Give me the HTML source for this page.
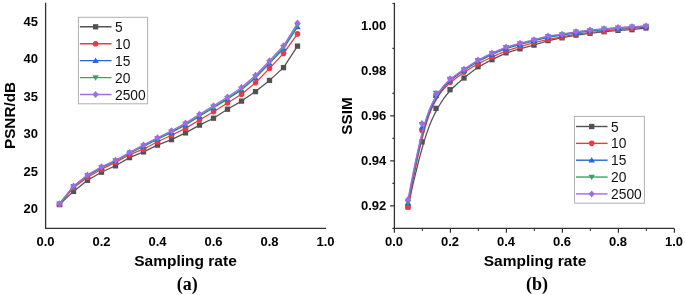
<!DOCTYPE html>
<html><head><meta charset="utf-8"><style>
html,body{margin:0;padding:0;background:#fff;width:685px;height:295px;overflow:hidden}
svg{display:block;filter:blur(0.22px)}
</style></head><body>
<svg width="685" height="295" viewBox="0 0 685 295">
<rect width="685" height="295" fill="#fff"/>
<path d="M59.50 204.60 L73.50 191.40 L87.50 180.30 L101.50 172.20 L115.50 165.80 L129.50 157.60 L143.50 151.90 L157.50 145.10 L171.50 139.60 L185.50 132.90 L199.50 125.10 L213.50 118.20 L227.50 109.20 L241.50 101.10 L255.50 91.60 L269.50 80.40 L283.50 67.60 L297.50 46.10" fill="none" stroke="#525252" stroke-width="1.25" stroke-linejoin="round"/>
<rect x="56.85" y="201.95" width="5.3" height="5.3" fill="#525252"/>
<rect x="70.85" y="188.75" width="5.3" height="5.3" fill="#525252"/>
<rect x="84.85" y="177.65" width="5.3" height="5.3" fill="#525252"/>
<rect x="98.85" y="169.55" width="5.3" height="5.3" fill="#525252"/>
<rect x="112.85" y="163.15" width="5.3" height="5.3" fill="#525252"/>
<rect x="126.85" y="154.95" width="5.3" height="5.3" fill="#525252"/>
<rect x="140.85" y="149.25" width="5.3" height="5.3" fill="#525252"/>
<rect x="154.85" y="142.45" width="5.3" height="5.3" fill="#525252"/>
<rect x="168.85" y="136.95" width="5.3" height="5.3" fill="#525252"/>
<rect x="182.85" y="130.25" width="5.3" height="5.3" fill="#525252"/>
<rect x="196.85" y="122.45" width="5.3" height="5.3" fill="#525252"/>
<rect x="210.85" y="115.55" width="5.3" height="5.3" fill="#525252"/>
<rect x="224.85" y="106.55" width="5.3" height="5.3" fill="#525252"/>
<rect x="238.85" y="98.45" width="5.3" height="5.3" fill="#525252"/>
<rect x="252.85" y="88.95" width="5.3" height="5.3" fill="#525252"/>
<rect x="266.85" y="77.75" width="5.3" height="5.3" fill="#525252"/>
<rect x="280.85" y="64.95" width="5.3" height="5.3" fill="#525252"/>
<rect x="294.85" y="43.45" width="5.3" height="5.3" fill="#525252"/>
<path d="M59.50 204.20 L73.50 187.80 L87.50 177.20 L101.50 169.20 L115.50 162.40 L129.50 154.70 L143.50 149.20 L157.50 141.70 L171.50 135.30 L185.50 128.40 L199.50 120.00 L213.50 111.70 L227.50 103.00 L241.50 94.30 L255.50 82.80 L269.50 68.40 L283.50 53.40 L297.50 33.90" fill="none" stroke="#ec3a3f" stroke-width="1.25" stroke-linejoin="round"/>
<circle cx="59.50" cy="204.20" r="2.8" fill="#ec3a3f"/>
<circle cx="73.50" cy="187.80" r="2.8" fill="#ec3a3f"/>
<circle cx="87.50" cy="177.20" r="2.8" fill="#ec3a3f"/>
<circle cx="101.50" cy="169.20" r="2.8" fill="#ec3a3f"/>
<circle cx="115.50" cy="162.40" r="2.8" fill="#ec3a3f"/>
<circle cx="129.50" cy="154.70" r="2.8" fill="#ec3a3f"/>
<circle cx="143.50" cy="149.20" r="2.8" fill="#ec3a3f"/>
<circle cx="157.50" cy="141.70" r="2.8" fill="#ec3a3f"/>
<circle cx="171.50" cy="135.30" r="2.8" fill="#ec3a3f"/>
<circle cx="185.50" cy="128.40" r="2.8" fill="#ec3a3f"/>
<circle cx="199.50" cy="120.00" r="2.8" fill="#ec3a3f"/>
<circle cx="213.50" cy="111.70" r="2.8" fill="#ec3a3f"/>
<circle cx="227.50" cy="103.00" r="2.8" fill="#ec3a3f"/>
<circle cx="241.50" cy="94.30" r="2.8" fill="#ec3a3f"/>
<circle cx="255.50" cy="82.80" r="2.8" fill="#ec3a3f"/>
<circle cx="269.50" cy="68.40" r="2.8" fill="#ec3a3f"/>
<circle cx="283.50" cy="53.40" r="2.8" fill="#ec3a3f"/>
<circle cx="297.50" cy="33.90" r="2.8" fill="#ec3a3f"/>
<path d="M59.50 203.88 L73.50 186.56 L87.50 175.71 L101.50 167.64 L115.50 160.97 L129.50 153.27 L143.50 146.41 L157.50 139.16 L171.50 132.38 L185.50 124.95 L199.50 116.23 L213.50 107.80 L227.50 99.10 L241.50 89.88 L255.50 77.86 L269.50 63.40 L283.50 48.46 L297.50 26.81" fill="none" stroke="#2465d9" stroke-width="1.25" stroke-linejoin="round"/>
<path d="M59.50 200.78L62.70 206.28L56.30 206.28Z" fill="#2465d9"/>
<path d="M73.50 183.47L76.70 188.97L70.30 188.97Z" fill="#2465d9"/>
<path d="M87.50 172.61L90.70 178.11L84.30 178.11Z" fill="#2465d9"/>
<path d="M101.50 164.54L104.70 170.04L98.30 170.04Z" fill="#2465d9"/>
<path d="M115.50 157.87L118.70 163.37L112.30 163.37Z" fill="#2465d9"/>
<path d="M129.50 150.17L132.70 155.67L126.30 155.67Z" fill="#2465d9"/>
<path d="M143.50 143.31L146.70 148.81L140.30 148.81Z" fill="#2465d9"/>
<path d="M157.50 136.06L160.70 141.56L154.30 141.56Z" fill="#2465d9"/>
<path d="M171.50 129.28L174.70 134.78L168.30 134.78Z" fill="#2465d9"/>
<path d="M185.50 121.86L188.70 127.36L182.30 127.36Z" fill="#2465d9"/>
<path d="M199.50 113.13L202.70 118.63L196.30 118.63Z" fill="#2465d9"/>
<path d="M213.50 104.70L216.70 110.20L210.30 110.20Z" fill="#2465d9"/>
<path d="M227.50 96.00L230.70 101.50L224.30 101.50Z" fill="#2465d9"/>
<path d="M241.50 86.78L244.70 92.28L238.30 92.28Z" fill="#2465d9"/>
<path d="M255.50 74.76L258.70 80.26L252.30 80.26Z" fill="#2465d9"/>
<path d="M269.50 60.30L272.70 65.80L266.30 65.80Z" fill="#2465d9"/>
<path d="M283.50 45.36L286.70 50.86L280.30 50.86Z" fill="#2465d9"/>
<path d="M297.50 23.71L300.70 29.21L294.30 29.21Z" fill="#2465d9"/>
<path d="M59.50 203.81 L73.50 186.32 L87.50 175.41 L101.50 167.33 L115.50 160.68 L129.50 152.98 L143.50 145.85 L157.50 138.66 L171.50 131.79 L185.50 124.27 L199.50 115.48 L213.50 107.02 L227.50 98.32 L241.50 89.00 L255.50 76.87 L269.50 62.39 L283.50 47.47 L297.50 25.40" fill="none" stroke="#2ea865" stroke-width="1.25" stroke-linejoin="round"/>
<path d="M59.50 206.91L62.70 201.41L56.30 201.41Z" fill="#2ea865"/>
<path d="M73.50 189.42L76.70 183.92L70.30 183.92Z" fill="#2ea865"/>
<path d="M87.50 178.51L90.70 173.01L84.30 173.01Z" fill="#2ea865"/>
<path d="M101.50 170.43L104.70 164.93L98.30 164.93Z" fill="#2ea865"/>
<path d="M115.50 163.78L118.70 158.28L112.30 158.28Z" fill="#2ea865"/>
<path d="M129.50 156.08L132.70 150.58L126.30 150.58Z" fill="#2ea865"/>
<path d="M143.50 148.95L146.70 143.45L140.30 143.45Z" fill="#2ea865"/>
<path d="M157.50 141.76L160.70 136.26L154.30 136.26Z" fill="#2ea865"/>
<path d="M171.50 134.89L174.70 129.39L168.30 129.39Z" fill="#2ea865"/>
<path d="M185.50 127.37L188.70 121.87L182.30 121.87Z" fill="#2ea865"/>
<path d="M199.50 118.58L202.70 113.08L196.30 113.08Z" fill="#2ea865"/>
<path d="M213.50 110.12L216.70 104.62L210.30 104.62Z" fill="#2ea865"/>
<path d="M227.50 101.42L230.70 95.92L224.30 95.92Z" fill="#2ea865"/>
<path d="M241.50 92.10L244.70 86.60L238.30 86.60Z" fill="#2ea865"/>
<path d="M255.50 79.97L258.70 74.47L252.30 74.47Z" fill="#2ea865"/>
<path d="M269.50 65.49L272.70 59.99L266.30 59.99Z" fill="#2ea865"/>
<path d="M283.50 50.57L286.70 45.07L280.30 45.07Z" fill="#2ea865"/>
<path d="M297.50 28.50L300.70 23.00L294.30 23.00Z" fill="#2ea865"/>
<path d="M59.50 203.70 L73.50 185.90 L87.50 174.90 L101.50 166.80 L115.50 160.20 L129.50 152.50 L143.50 144.90 L157.50 137.80 L171.50 130.80 L185.50 123.10 L199.50 114.20 L213.50 105.70 L227.50 97.00 L241.50 87.50 L255.50 75.20 L269.50 60.70 L283.50 45.80 L297.50 23.00" fill="none" stroke="#a36be3" stroke-width="1.25" stroke-linejoin="round"/>
<path d="M59.50 200.20L62.60 203.70L59.50 207.20L56.40 203.70Z" fill="#a36be3"/>
<path d="M73.50 182.40L76.60 185.90L73.50 189.40L70.40 185.90Z" fill="#a36be3"/>
<path d="M87.50 171.40L90.60 174.90L87.50 178.40L84.40 174.90Z" fill="#a36be3"/>
<path d="M101.50 163.30L104.60 166.80L101.50 170.30L98.40 166.80Z" fill="#a36be3"/>
<path d="M115.50 156.70L118.60 160.20L115.50 163.70L112.40 160.20Z" fill="#a36be3"/>
<path d="M129.50 149.00L132.60 152.50L129.50 156.00L126.40 152.50Z" fill="#a36be3"/>
<path d="M143.50 141.40L146.60 144.90L143.50 148.40L140.40 144.90Z" fill="#a36be3"/>
<path d="M157.50 134.30L160.60 137.80L157.50 141.30L154.40 137.80Z" fill="#a36be3"/>
<path d="M171.50 127.30L174.60 130.80L171.50 134.30L168.40 130.80Z" fill="#a36be3"/>
<path d="M185.50 119.60L188.60 123.10L185.50 126.60L182.40 123.10Z" fill="#a36be3"/>
<path d="M199.50 110.70L202.60 114.20L199.50 117.70L196.40 114.20Z" fill="#a36be3"/>
<path d="M213.50 102.20L216.60 105.70L213.50 109.20L210.40 105.70Z" fill="#a36be3"/>
<path d="M227.50 93.50L230.60 97.00L227.50 100.50L224.40 97.00Z" fill="#a36be3"/>
<path d="M241.50 84.00L244.60 87.50L241.50 91.00L238.40 87.50Z" fill="#a36be3"/>
<path d="M255.50 71.70L258.60 75.20L255.50 78.70L252.40 75.20Z" fill="#a36be3"/>
<path d="M269.50 57.20L272.60 60.70L269.50 64.20L266.40 60.70Z" fill="#a36be3"/>
<path d="M283.50 42.30L286.60 45.80L283.50 49.30L280.40 45.80Z" fill="#a36be3"/>
<path d="M297.50 19.50L300.60 23.00L297.50 26.50L294.40 23.00Z" fill="#a36be3"/>
<path d="M45.6 2.8 V228.45 H326" fill="none" stroke="#333" stroke-width="1.3"/>
<text x="38" y="213.40" text-anchor="end" font-family="'Liberation Sans', sans-serif" font-weight="bold" font-size="13">20</text>
<text x="38" y="175.90" text-anchor="end" font-family="'Liberation Sans', sans-serif" font-weight="bold" font-size="13">25</text>
<text x="38" y="138.40" text-anchor="end" font-family="'Liberation Sans', sans-serif" font-weight="bold" font-size="13">30</text>
<text x="38" y="100.90" text-anchor="end" font-family="'Liberation Sans', sans-serif" font-weight="bold" font-size="13">35</text>
<text x="38" y="63.40" text-anchor="end" font-family="'Liberation Sans', sans-serif" font-weight="bold" font-size="13">40</text>
<text x="38" y="25.90" text-anchor="end" font-family="'Liberation Sans', sans-serif" font-weight="bold" font-size="13">45</text>
<text x="45.50" y="245.9" text-anchor="middle" font-family="'Liberation Sans', sans-serif" font-weight="bold" font-size="13">0.0</text>
<text x="101.50" y="245.9" text-anchor="middle" font-family="'Liberation Sans', sans-serif" font-weight="bold" font-size="13">0.2</text>
<text x="157.50" y="245.9" text-anchor="middle" font-family="'Liberation Sans', sans-serif" font-weight="bold" font-size="13">0.4</text>
<text x="213.50" y="245.9" text-anchor="middle" font-family="'Liberation Sans', sans-serif" font-weight="bold" font-size="13">0.6</text>
<text x="269.50" y="245.9" text-anchor="middle" font-family="'Liberation Sans', sans-serif" font-weight="bold" font-size="13">0.8</text>
<text x="325.50" y="245.9" text-anchor="middle" font-family="'Liberation Sans', sans-serif" font-weight="bold" font-size="13">1.0</text>
<text x="185.5" y="265.9" text-anchor="middle" font-family="'Liberation Sans', sans-serif" font-weight="bold" font-size="15.5">Sampling rate</text>
<text transform="translate(15.2 115.5) rotate(-90)" text-anchor="middle" font-family="'Liberation Sans', sans-serif" font-weight="bold" font-size="15.3">PSNR/dB</text>
<text x="187.3" y="290.2" text-anchor="middle" font-family="'Liberation Serif', serif" font-weight="bold" font-size="18">(a)</text>
<rect x="78.4" y="17.3" width="69.2" height="86.5" fill="#fff" stroke="#b0b0b0" stroke-width="1"/>
<line x1="79.9" y1="26.80" x2="111.5" y2="26.80" stroke="#525252" stroke-width="1.4"/>
<rect x="92.95" y="24.15" width="5.3" height="5.3" fill="#525252"/>
<text x="115.0" y="31.80" font-family="'Liberation Sans', sans-serif" font-size="13.8" fill="#111">5</text>
<line x1="79.9" y1="43.73" x2="111.5" y2="43.73" stroke="#ec3a3f" stroke-width="1.4"/>
<circle cx="95.60" cy="43.73" r="2.8" fill="#ec3a3f"/>
<text x="115.0" y="48.73" font-family="'Liberation Sans', sans-serif" font-size="13.8" fill="#111">10</text>
<line x1="79.9" y1="60.66" x2="111.5" y2="60.66" stroke="#2465d9" stroke-width="1.4"/>
<path d="M95.60 57.56L98.80 63.06L92.40 63.06Z" fill="#2465d9"/>
<text x="115.0" y="65.66" font-family="'Liberation Sans', sans-serif" font-size="13.8" fill="#111">15</text>
<line x1="79.9" y1="77.59" x2="111.5" y2="77.59" stroke="#2ea865" stroke-width="1.4"/>
<path d="M95.60 80.69L98.80 75.19L92.40 75.19Z" fill="#2ea865"/>
<text x="115.0" y="82.59" font-family="'Liberation Sans', sans-serif" font-size="13.8" fill="#111">20</text>
<line x1="79.9" y1="94.52" x2="111.5" y2="94.52" stroke="#a36be3" stroke-width="1.4"/>
<path d="M95.60 91.02L98.70 94.52L95.60 98.02L92.50 94.52Z" fill="#a36be3"/>
<text x="115.0" y="99.52" font-family="'Liberation Sans', sans-serif" font-size="13.8" fill="#111">2500</text>
<path d="M408.00 206.90 L409.55 199.77 L411.04 193.04 L412.48 186.69 L413.86 180.70 L415.19 175.07 L416.47 169.79 L417.70 164.82 L418.89 160.18 L420.03 155.83 L421.13 151.77 L422.19 147.97 L423.21 144.44 L424.19 141.15 L425.14 138.10 L426.05 135.26 L426.93 132.62 L427.79 130.18 L428.61 127.91 L429.41 125.80 L430.19 123.84 L430.94 122.02 L431.67 120.31 L432.39 118.72 L433.08 117.22 L433.77 115.80 L434.44 114.44 L435.10 113.14 L435.74 111.89 L436.38 110.67 L437.02 109.50 L437.64 108.37 L438.25 107.28 L438.86 106.22 L439.46 105.20 L440.05 104.22 L440.63 103.26 L441.21 102.35 L441.78 101.46 L442.35 100.60 L442.91 99.77 L443.47 98.97 L444.02 98.19 L444.57 97.44 L445.11 96.71 L445.65 96.00 L446.19 95.32 L446.72 94.65 L447.25 94.00 L447.78 93.37 L448.31 92.75 L448.84 92.15 L449.37 91.56 L449.89 90.98 L450.42 90.41 L450.95 89.85 L451.47 89.30 L452.00 88.76 L452.53 88.23 L453.05 87.71 L453.58 87.19 L454.11 86.68 L454.63 86.18 L455.16 85.69 L455.68 85.20 L456.21 84.72 L456.74 84.24 L457.26 83.77 L457.79 83.30 L458.32 82.84 L458.84 82.39 L459.37 81.93 L459.89 81.48 L460.42 81.04 L460.95 80.60 L461.47 80.15 L462.00 79.72 L462.53 79.28 L463.05 78.85 L463.58 78.41 L464.11 77.98 L464.63 77.55 L465.16 77.12 L465.68 76.69 L466.21 76.26 L466.74 75.83 L467.26 75.41 L467.79 74.98 L468.32 74.56 L468.84 74.14 L469.37 73.72 L469.89 73.31 L470.42 72.90 L470.95 72.49 L471.47 72.08 L472.00 71.68 L472.53 71.28 L473.05 70.89 L473.58 70.50 L474.11 70.11 L474.63 69.73 L475.16 69.36 L475.68 68.99 L476.21 68.62 L476.74 68.26 L477.26 67.90 L477.79 67.55 L478.32 67.21 L478.84 66.87 L479.37 66.54 L479.89 66.22 L480.42 65.90 L480.95 65.58 L481.47 65.27 L482.00 64.96 L482.53 64.66 L483.05 64.36 L483.58 64.07 L484.11 63.78 L484.63 63.49 L485.16 63.21 L485.68 62.93 L486.21 62.65 L486.74 62.37 L487.26 62.10 L487.79 61.83 L488.32 61.56 L488.84 61.29 L489.37 61.03 L489.89 60.77 L490.42 60.50 L490.95 60.24 L491.47 59.98 L492.00 59.72 L492.53 59.46 L493.05 59.19 L493.58 58.93 L494.11 58.67 L494.63 58.42 L495.16 58.16 L495.68 57.90 L496.21 57.64 L496.74 57.39 L497.26 57.14 L497.79 56.88 L498.32 56.63 L498.84 56.39 L499.37 56.14 L499.89 55.90 L500.42 55.66 L500.95 55.42 L501.47 55.18 L502.00 54.95 L502.53 54.72 L503.05 54.49 L503.58 54.27 L504.11 54.05 L504.63 53.83 L505.16 53.62 L505.68 53.41 L506.21 53.20 L506.74 53.00 L507.26 52.80 L507.79 52.61 L508.32 52.42 L508.84 52.23 L509.37 52.05 L509.89 51.87 L510.42 51.69 L510.95 51.52 L511.47 51.35 L512.00 51.18 L512.53 51.01 L513.05 50.85 L513.58 50.69 L514.11 50.53 L514.63 50.37 L515.16 50.22 L515.68 50.06 L516.21 49.91 L516.74 49.76 L517.26 49.61 L517.79 49.46 L518.32 49.32 L518.84 49.17 L519.37 49.02 L519.89 48.88 L520.42 48.73 L520.95 48.59 L521.47 48.45 L522.00 48.30 L522.53 48.16 L523.05 48.02 L523.58 47.87 L524.11 47.73 L524.63 47.59 L525.16 47.44 L525.68 47.30 L526.21 47.16 L526.74 47.01 L527.26 46.87 L527.79 46.72 L528.32 46.58 L528.84 46.43 L529.37 46.29 L529.89 46.14 L530.42 45.99 L530.95 45.84 L531.47 45.69 L532.00 45.54 L532.53 45.39 L533.05 45.24 L533.58 45.09 L534.11 44.94 L534.63 44.78 L535.16 44.63 L535.68 44.47 L536.21 44.31 L536.74 44.15 L537.26 43.99 L537.79 43.84 L538.32 43.68 L538.84 43.52 L539.37 43.36 L539.89 43.20 L540.42 43.04 L540.95 42.88 L541.47 42.73 L542.00 42.57 L542.53 42.42 L543.05 42.26 L543.58 42.11 L544.11 41.96 L544.63 41.80 L545.16 41.66 L545.68 41.51 L546.21 41.36 L546.74 41.22 L547.26 41.08 L547.79 40.94 L548.32 40.80 L548.84 40.67 L549.37 40.53 L549.89 40.40 L550.42 40.28 L550.95 40.15 L551.47 40.03 L552.00 39.90 L552.53 39.78 L553.05 39.66 L553.58 39.55 L554.11 39.43 L554.63 39.32 L555.16 39.20 L555.68 39.09 L556.21 38.98 L556.74 38.87 L557.26 38.76 L557.79 38.66 L558.32 38.55 L558.84 38.44 L559.37 38.34 L559.89 38.23 L560.42 38.13 L560.95 38.02 L561.47 37.92 L562.00 37.82 L562.53 37.71 L563.05 37.61 L563.58 37.51 L564.11 37.40 L564.63 37.30 L565.16 37.20 L565.68 37.10 L566.21 37.00 L566.74 36.90 L567.26 36.80 L567.79 36.70 L568.32 36.60 L568.84 36.50 L569.37 36.40 L569.89 36.31 L570.42 36.21 L570.95 36.11 L571.47 36.02 L572.00 35.93 L572.53 35.83 L573.05 35.74 L573.58 35.65 L574.11 35.56 L574.63 35.47 L575.16 35.39 L575.68 35.30 L576.21 35.22 L576.74 35.13 L577.26 35.05 L577.79 34.97 L578.32 34.89 L578.84 34.81 L579.37 34.73 L579.89 34.66 L580.42 34.58 L580.95 34.51 L581.47 34.43 L582.00 34.36 L582.53 34.29 L583.05 34.22 L583.58 34.15 L584.11 34.08 L584.63 34.01 L585.16 33.94 L585.68 33.87 L586.21 33.80 L586.74 33.74 L587.26 33.67 L587.79 33.60 L588.32 33.54 L588.84 33.47 L589.37 33.41 L589.89 33.35 L590.42 33.28 L590.95 33.22 L591.47 33.16 L592.00 33.09 L592.53 33.03 L593.05 32.97 L593.58 32.91 L594.11 32.84 L594.63 32.78 L595.16 32.72 L595.68 32.66 L596.21 32.60 L596.74 32.54 L597.26 32.48 L597.79 32.42 L598.32 32.36 L598.84 32.30 L599.37 32.25 L599.89 32.19 L600.42 32.13 L600.95 32.07 L601.47 32.02 L602.00 31.96 L602.53 31.90 L603.05 31.85 L603.58 31.79 L604.11 31.74 L604.63 31.68 L605.16 31.63 L605.69 31.58 L606.22 31.52 L606.75 31.47 L607.28 31.42 L607.81 31.37 L608.35 31.32 L608.89 31.27 L609.43 31.22 L609.98 31.17 L610.53 31.12 L611.09 31.07 L611.65 31.02 L612.22 30.97 L612.79 30.92 L613.37 30.87 L613.95 30.83 L614.54 30.78 L615.14 30.73 L615.75 30.69 L616.36 30.64 L616.98 30.59 L617.62 30.55 L618.26 30.50 L618.90 30.46 L619.56 30.42 L620.23 30.37 L620.92 30.33 L621.61 30.28 L622.33 30.24 L623.06 30.19 L623.81 30.14 L624.59 30.08 L625.39 30.03 L626.21 29.97 L627.07 29.91 L627.95 29.84 L628.86 29.77 L629.81 29.69 L630.79 29.60 L631.81 29.51 L632.87 29.42 L633.97 29.32 L635.11 29.21 L636.30 29.09 L637.53 28.96 L638.81 28.82 L640.14 28.68 L641.52 28.53 L642.96 28.36 L644.45 28.19 L646.00 28.00" fill="none" stroke="#525252" stroke-width="1.25" stroke-linejoin="round"/>
<rect x="405.35" y="204.25" width="5.3" height="5.3" fill="#525252"/>
<rect x="419.35" y="139.25" width="5.3" height="5.3" fill="#525252"/>
<rect x="433.35" y="105.75" width="5.3" height="5.3" fill="#525252"/>
<rect x="447.35" y="87.05" width="5.3" height="5.3" fill="#525252"/>
<rect x="461.35" y="75.35" width="5.3" height="5.3" fill="#525252"/>
<rect x="475.35" y="64.05" width="5.3" height="5.3" fill="#525252"/>
<rect x="489.35" y="57.05" width="5.3" height="5.3" fill="#525252"/>
<rect x="503.35" y="50.15" width="5.3" height="5.3" fill="#525252"/>
<rect x="517.35" y="46.15" width="5.3" height="5.3" fill="#525252"/>
<rect x="531.35" y="42.45" width="5.3" height="5.3" fill="#525252"/>
<rect x="545.35" y="37.95" width="5.3" height="5.3" fill="#525252"/>
<rect x="559.35" y="35.15" width="5.3" height="5.3" fill="#525252"/>
<rect x="573.35" y="32.45" width="5.3" height="5.3" fill="#525252"/>
<rect x="587.35" y="30.65" width="5.3" height="5.3" fill="#525252"/>
<rect x="601.35" y="29.05" width="5.3" height="5.3" fill="#525252"/>
<rect x="615.35" y="27.75" width="5.3" height="5.3" fill="#525252"/>
<rect x="629.35" y="27.05" width="5.3" height="5.3" fill="#525252"/>
<rect x="643.35" y="25.35" width="5.3" height="5.3" fill="#525252"/>
<path d="M408.00 207.10 L409.55 198.70 L411.04 190.78 L412.48 183.34 L413.86 176.35 L415.19 169.80 L416.47 163.66 L417.70 157.93 L418.89 152.59 L420.03 147.61 L421.13 142.98 L422.19 138.69 L423.21 134.72 L424.19 131.05 L425.14 127.66 L426.05 124.54 L426.93 121.68 L427.79 119.04 L428.61 116.62 L429.41 114.40 L430.19 112.37 L430.94 110.49 L431.67 108.77 L432.39 107.18 L433.08 105.71 L433.77 104.33 L434.44 103.04 L435.10 101.81 L435.74 100.63 L436.38 99.50 L437.02 98.43 L437.64 97.40 L438.25 96.42 L438.86 95.48 L439.46 94.59 L440.05 93.73 L440.63 92.91 L441.21 92.13 L441.78 91.39 L442.35 90.68 L442.91 89.99 L443.47 89.34 L444.02 88.72 L444.57 88.12 L445.11 87.54 L445.65 86.98 L446.19 86.45 L446.72 85.93 L447.25 85.43 L447.78 84.94 L448.31 84.46 L448.84 84.00 L449.37 83.54 L449.89 83.09 L450.42 82.64 L450.95 82.20 L451.47 81.76 L452.00 81.33 L452.53 80.90 L453.05 80.47 L453.58 80.05 L454.11 79.64 L454.63 79.22 L455.16 78.81 L455.68 78.40 L456.21 78.00 L456.74 77.60 L457.26 77.21 L457.79 76.81 L458.32 76.43 L458.84 76.04 L459.37 75.66 L459.89 75.28 L460.42 74.90 L460.95 74.53 L461.47 74.16 L462.00 73.80 L462.53 73.43 L463.05 73.07 L463.58 72.72 L464.11 72.36 L464.63 72.01 L465.16 71.66 L465.68 71.32 L466.21 70.97 L466.74 70.63 L467.26 70.30 L467.79 69.96 L468.32 69.63 L468.84 69.30 L469.37 68.97 L469.89 68.65 L470.42 68.33 L470.95 68.01 L471.47 67.69 L472.00 67.38 L472.53 67.06 L473.05 66.76 L473.58 66.45 L474.11 66.14 L474.63 65.84 L475.16 65.54 L475.68 65.25 L476.21 64.95 L476.74 64.66 L477.26 64.37 L477.79 64.08 L478.32 63.80 L478.84 63.51 L479.37 63.23 L479.89 62.95 L480.42 62.68 L480.95 62.40 L481.47 62.13 L482.00 61.86 L482.53 61.59 L483.05 61.32 L483.58 61.06 L484.11 60.79 L484.63 60.53 L485.16 60.27 L485.68 60.01 L486.21 59.75 L486.74 59.50 L487.26 59.24 L487.79 58.99 L488.32 58.74 L488.84 58.49 L489.37 58.24 L489.89 58.00 L490.42 57.75 L490.95 57.50 L491.47 57.26 L492.00 57.02 L492.53 56.77 L493.05 56.53 L493.58 56.29 L494.11 56.06 L494.63 55.82 L495.16 55.58 L495.68 55.35 L496.21 55.11 L496.74 54.88 L497.26 54.65 L497.79 54.42 L498.32 54.20 L498.84 53.97 L499.37 53.75 L499.89 53.53 L500.42 53.31 L500.95 53.09 L501.47 52.88 L502.00 52.67 L502.53 52.46 L503.05 52.25 L503.58 52.04 L504.11 51.84 L504.63 51.64 L505.16 51.44 L505.68 51.25 L506.21 51.06 L506.74 50.87 L507.26 50.68 L507.79 50.50 L508.32 50.32 L508.84 50.14 L509.37 49.96 L509.89 49.78 L510.42 49.61 L510.95 49.44 L511.47 49.27 L512.00 49.11 L512.53 48.94 L513.05 48.78 L513.58 48.61 L514.11 48.45 L514.63 48.29 L515.16 48.13 L515.68 47.97 L516.21 47.82 L516.74 47.66 L517.26 47.50 L517.79 47.35 L518.32 47.19 L518.84 47.04 L519.37 46.88 L519.89 46.73 L520.42 46.58 L520.95 46.42 L521.47 46.27 L522.00 46.11 L522.53 45.96 L523.05 45.81 L523.58 45.65 L524.11 45.50 L524.63 45.35 L525.16 45.20 L525.68 45.04 L526.21 44.89 L526.74 44.74 L527.26 44.59 L527.79 44.44 L528.32 44.29 L528.84 44.14 L529.37 44.00 L529.89 43.85 L530.42 43.70 L530.95 43.56 L531.47 43.41 L532.00 43.27 L532.53 43.13 L533.05 42.99 L533.58 42.84 L534.11 42.71 L534.63 42.57 L535.16 42.43 L535.68 42.29 L536.21 42.16 L536.74 42.03 L537.26 41.89 L537.79 41.76 L538.32 41.63 L538.84 41.50 L539.37 41.38 L539.89 41.25 L540.42 41.12 L540.95 41.00 L541.47 40.88 L542.00 40.76 L542.53 40.64 L543.05 40.52 L543.58 40.40 L544.11 40.28 L544.63 40.17 L545.16 40.06 L545.68 39.94 L546.21 39.83 L546.74 39.72 L547.26 39.62 L547.79 39.51 L548.32 39.40 L548.84 39.30 L549.37 39.20 L549.89 39.10 L550.42 39.00 L550.95 38.90 L551.47 38.80 L552.00 38.70 L552.53 38.60 L553.05 38.51 L553.58 38.41 L554.11 38.32 L554.63 38.22 L555.16 38.13 L555.68 38.03 L556.21 37.94 L556.74 37.85 L557.26 37.75 L557.79 37.66 L558.32 37.56 L558.84 37.47 L559.37 37.37 L559.89 37.27 L560.42 37.18 L560.95 37.08 L561.47 36.98 L562.00 36.88 L562.53 36.78 L563.05 36.68 L563.58 36.58 L564.11 36.48 L564.63 36.38 L565.16 36.27 L565.68 36.17 L566.21 36.06 L566.74 35.96 L567.26 35.86 L567.79 35.75 L568.32 35.65 L568.84 35.55 L569.37 35.45 L569.89 35.34 L570.42 35.24 L570.95 35.14 L571.47 35.04 L572.00 34.95 L572.53 34.85 L573.05 34.75 L573.58 34.66 L574.11 34.57 L574.63 34.48 L575.16 34.39 L575.68 34.30 L576.21 34.22 L576.74 34.13 L577.26 34.05 L577.79 33.97 L578.32 33.90 L578.84 33.82 L579.37 33.75 L579.89 33.68 L580.42 33.61 L580.95 33.54 L581.47 33.47 L582.00 33.40 L582.53 33.34 L583.05 33.27 L583.58 33.21 L584.11 33.15 L584.63 33.09 L585.16 33.03 L585.68 32.97 L586.21 32.91 L586.74 32.85 L587.26 32.80 L587.79 32.74 L588.32 32.68 L588.84 32.62 L589.37 32.57 L589.89 32.51 L590.42 32.45 L590.95 32.40 L591.47 32.34 L592.00 32.29 L592.53 32.23 L593.05 32.17 L593.58 32.12 L594.11 32.06 L594.63 32.00 L595.16 31.95 L595.68 31.89 L596.21 31.83 L596.74 31.78 L597.26 31.72 L597.79 31.67 L598.32 31.61 L598.84 31.55 L599.37 31.50 L599.89 31.44 L600.42 31.38 L600.95 31.33 L601.47 31.27 L602.00 31.21 L602.53 31.16 L603.05 31.10 L603.58 31.05 L604.11 30.99 L604.63 30.93 L605.16 30.88 L605.69 30.82 L606.22 30.76 L606.75 30.71 L607.28 30.65 L607.81 30.59 L608.35 30.54 L608.89 30.48 L609.43 30.42 L609.98 30.37 L610.53 30.31 L611.09 30.26 L611.65 30.20 L612.22 30.14 L612.79 30.09 L613.37 30.03 L613.95 29.97 L614.54 29.92 L615.14 29.86 L615.75 29.80 L616.36 29.75 L616.98 29.69 L617.62 29.64 L618.26 29.58 L618.90 29.52 L619.56 29.47 L620.23 29.41 L620.92 29.35 L621.61 29.29 L622.33 29.24 L623.06 29.17 L623.81 29.11 L624.59 29.05 L625.39 28.98 L626.21 28.91 L627.07 28.84 L627.95 28.76 L628.86 28.68 L629.81 28.60 L630.79 28.51 L631.81 28.42 L632.87 28.32 L633.97 28.22 L635.11 28.11 L636.30 27.99 L637.53 27.87 L638.81 27.75 L640.14 27.61 L641.52 27.47 L642.96 27.32 L644.45 27.16 L646.00 27.00" fill="none" stroke="#ec3a3f" stroke-width="1.25" stroke-linejoin="round"/>
<circle cx="408.00" cy="207.10" r="2.8" fill="#ec3a3f"/>
<circle cx="422.00" cy="130.40" r="2.8" fill="#ec3a3f"/>
<circle cx="436.00" cy="95.90" r="2.8" fill="#ec3a3f"/>
<circle cx="450.00" cy="82.50" r="2.8" fill="#ec3a3f"/>
<circle cx="464.00" cy="72.10" r="2.8" fill="#ec3a3f"/>
<circle cx="478.00" cy="63.70" r="2.8" fill="#ec3a3f"/>
<circle cx="492.00" cy="56.90" r="2.8" fill="#ec3a3f"/>
<circle cx="506.00" cy="50.80" r="2.8" fill="#ec3a3f"/>
<circle cx="520.00" cy="46.70" r="2.8" fill="#ec3a3f"/>
<circle cx="534.00" cy="42.60" r="2.8" fill="#ec3a3f"/>
<circle cx="548.00" cy="39.30" r="2.8" fill="#ec3a3f"/>
<circle cx="562.00" cy="37.00" r="2.8" fill="#ec3a3f"/>
<circle cx="576.00" cy="34.00" r="2.8" fill="#ec3a3f"/>
<circle cx="590.00" cy="32.50" r="2.8" fill="#ec3a3f"/>
<circle cx="604.00" cy="31.00" r="2.8" fill="#ec3a3f"/>
<circle cx="618.00" cy="29.50" r="2.8" fill="#ec3a3f"/>
<circle cx="632.00" cy="28.50" r="2.8" fill="#ec3a3f"/>
<circle cx="646.00" cy="27.00" r="2.8" fill="#ec3a3f"/>
<path d="M408.00 202.80 L409.55 194.52 L411.04 186.74 L412.48 179.42 L413.86 172.57 L415.19 166.15 L416.47 160.14 L417.70 154.55 L418.89 149.33 L420.03 144.49 L421.13 140.00 L422.19 135.84 L423.21 131.99 L424.19 128.45 L425.14 125.19 L426.05 122.19 L426.93 119.43 L427.79 116.91 L428.61 114.60 L429.41 112.48 L430.19 110.54 L430.94 108.76 L431.67 107.12 L432.39 105.61 L433.08 104.21 L433.77 102.89 L434.44 101.65 L435.10 100.47 L435.74 99.33 L436.38 98.23 L437.02 97.17 L437.64 96.16 L438.25 95.18 L438.86 94.25 L439.46 93.34 L440.05 92.48 L440.63 91.64 L441.21 90.84 L441.78 90.07 L442.35 89.33 L442.91 88.61 L443.47 87.93 L444.02 87.26 L444.57 86.62 L445.11 86.01 L445.65 85.41 L446.19 84.83 L446.72 84.27 L447.25 83.73 L447.78 83.20 L448.31 82.69 L448.84 82.19 L449.37 81.70 L449.89 81.22 L450.42 80.74 L450.95 80.28 L451.47 79.82 L452.00 79.37 L452.53 78.92 L453.05 78.49 L453.58 78.05 L454.11 77.63 L454.63 77.21 L455.16 76.80 L455.68 76.39 L456.21 75.98 L456.74 75.59 L457.26 75.19 L457.79 74.80 L458.32 74.42 L458.84 74.04 L459.37 73.66 L459.89 73.28 L460.42 72.91 L460.95 72.55 L461.47 72.18 L462.00 71.82 L462.53 71.46 L463.05 71.10 L463.58 70.74 L464.11 70.39 L464.63 70.04 L465.16 69.68 L465.68 69.33 L466.21 68.98 L466.74 68.64 L467.26 68.29 L467.79 67.95 L468.32 67.60 L468.84 67.26 L469.37 66.92 L469.89 66.59 L470.42 66.25 L470.95 65.92 L471.47 65.59 L472.00 65.26 L472.53 64.93 L473.05 64.61 L473.58 64.29 L474.11 63.97 L474.63 63.65 L475.16 63.34 L475.68 63.02 L476.21 62.71 L476.74 62.41 L477.26 62.10 L477.79 61.80 L478.32 61.50 L478.84 61.21 L479.37 60.92 L479.89 60.63 L480.42 60.34 L480.95 60.05 L481.47 59.77 L482.00 59.49 L482.53 59.22 L483.05 58.94 L483.58 58.67 L484.11 58.40 L484.63 58.13 L485.16 57.86 L485.68 57.60 L486.21 57.34 L486.74 57.08 L487.26 56.82 L487.79 56.57 L488.32 56.31 L488.84 56.06 L489.37 55.81 L489.89 55.56 L490.42 55.31 L490.95 55.07 L491.47 54.82 L492.00 54.58 L492.53 54.34 L493.05 54.10 L493.58 53.86 L494.11 53.62 L494.63 53.38 L495.16 53.15 L495.68 52.92 L496.21 52.69 L496.74 52.46 L497.26 52.23 L497.79 52.01 L498.32 51.78 L498.84 51.56 L499.37 51.34 L499.89 51.13 L500.42 50.91 L500.95 50.70 L501.47 50.49 L502.00 50.28 L502.53 50.08 L503.05 49.88 L503.58 49.68 L504.11 49.48 L504.63 49.29 L505.16 49.10 L505.68 48.91 L506.21 48.72 L506.74 48.54 L507.26 48.36 L507.79 48.19 L508.32 48.01 L508.84 47.84 L509.37 47.67 L509.89 47.51 L510.42 47.34 L510.95 47.18 L511.47 47.02 L512.00 46.86 L512.53 46.70 L513.05 46.55 L513.58 46.39 L514.11 46.24 L514.63 46.09 L515.16 45.94 L515.68 45.79 L516.21 45.65 L516.74 45.50 L517.26 45.35 L517.79 45.21 L518.32 45.06 L518.84 44.92 L519.37 44.77 L519.89 44.63 L520.42 44.49 L520.95 44.34 L521.47 44.20 L522.00 44.06 L522.53 43.91 L523.05 43.77 L523.58 43.63 L524.11 43.49 L524.63 43.34 L525.16 43.20 L525.68 43.06 L526.21 42.92 L526.74 42.77 L527.26 42.63 L527.79 42.49 L528.32 42.35 L528.84 42.21 L529.37 42.07 L529.89 41.92 L530.42 41.78 L530.95 41.64 L531.47 41.50 L532.00 41.36 L532.53 41.22 L533.05 41.08 L533.58 40.94 L534.11 40.80 L534.63 40.67 L535.16 40.53 L535.68 40.39 L536.21 40.25 L536.74 40.11 L537.26 39.98 L537.79 39.84 L538.32 39.71 L538.84 39.57 L539.37 39.44 L539.89 39.31 L540.42 39.18 L540.95 39.05 L541.47 38.92 L542.00 38.79 L542.53 38.67 L543.05 38.54 L543.58 38.42 L544.11 38.30 L544.63 38.18 L545.16 38.07 L545.68 37.95 L546.21 37.84 L546.74 37.73 L547.26 37.62 L547.79 37.51 L548.32 37.41 L548.84 37.31 L549.37 37.21 L549.89 37.11 L550.42 37.02 L550.95 36.92 L551.47 36.83 L552.00 36.74 L552.53 36.65 L553.05 36.56 L553.58 36.48 L554.11 36.39 L554.63 36.31 L555.16 36.22 L555.68 36.14 L556.21 36.06 L556.74 35.97 L557.26 35.89 L557.79 35.81 L558.32 35.73 L558.84 35.64 L559.37 35.56 L559.89 35.48 L560.42 35.39 L560.95 35.31 L561.47 35.22 L562.00 35.14 L562.53 35.05 L563.05 34.96 L563.58 34.87 L564.11 34.78 L564.63 34.69 L565.16 34.60 L565.68 34.51 L566.21 34.42 L566.74 34.32 L567.26 34.23 L567.79 34.14 L568.32 34.05 L568.84 33.95 L569.37 33.86 L569.89 33.77 L570.42 33.68 L570.95 33.59 L571.47 33.50 L572.00 33.41 L572.53 33.32 L573.05 33.23 L573.58 33.14 L574.11 33.06 L574.63 32.97 L575.16 32.89 L575.68 32.81 L576.21 32.73 L576.74 32.65 L577.26 32.57 L577.79 32.50 L578.32 32.43 L578.84 32.35 L579.37 32.28 L579.89 32.21 L580.42 32.14 L580.95 32.07 L581.47 32.01 L582.00 31.94 L582.53 31.88 L583.05 31.81 L583.58 31.75 L584.11 31.69 L584.63 31.63 L585.16 31.57 L585.68 31.51 L586.21 31.45 L586.74 31.39 L587.26 31.33 L587.79 31.27 L588.32 31.21 L588.84 31.16 L589.37 31.10 L589.89 31.04 L590.42 30.99 L590.95 30.93 L591.47 30.88 L592.00 30.82 L592.53 30.76 L593.05 30.71 L593.58 30.65 L594.11 30.60 L594.63 30.54 L595.16 30.49 L595.68 30.43 L596.21 30.38 L596.74 30.33 L597.26 30.27 L597.79 30.22 L598.32 30.17 L598.84 30.11 L599.37 30.06 L599.89 30.01 L600.42 29.95 L600.95 29.90 L601.47 29.85 L602.00 29.80 L602.53 29.75 L603.05 29.70 L603.58 29.65 L604.11 29.59 L604.63 29.54 L605.16 29.49 L605.69 29.44 L606.22 29.39 L606.75 29.35 L607.28 29.30 L607.81 29.25 L608.35 29.20 L608.89 29.15 L609.43 29.10 L609.98 29.05 L610.53 29.00 L611.09 28.95 L611.65 28.90 L612.22 28.86 L612.79 28.81 L613.37 28.76 L613.95 28.71 L614.54 28.66 L615.14 28.61 L615.75 28.56 L616.36 28.51 L616.98 28.46 L617.62 28.42 L618.26 28.37 L618.90 28.32 L619.56 28.27 L620.23 28.22 L620.92 28.16 L621.61 28.11 L622.33 28.06 L623.06 28.01 L623.81 27.95 L624.59 27.90 L625.39 27.84 L626.21 27.78 L627.07 27.72 L627.95 27.66 L628.86 27.59 L629.81 27.53 L630.79 27.46 L631.81 27.39 L632.87 27.31 L633.97 27.24 L635.11 27.15 L636.30 27.07 L637.53 26.98 L638.81 26.89 L640.14 26.80 L641.52 26.70 L642.96 26.60 L644.45 26.49 L646.00 26.38" fill="none" stroke="#2465d9" stroke-width="1.25" stroke-linejoin="round"/>
<path d="M408.00 199.70L411.20 205.20L404.80 205.20Z" fill="#2465d9"/>
<path d="M422.00 124.10L425.20 129.60L418.80 129.60Z" fill="#2465d9"/>
<path d="M436.00 92.50L439.20 98.00L432.80 98.00Z" fill="#2465d9"/>
<path d="M450.00 77.11L453.20 82.61L446.80 82.61Z" fill="#2465d9"/>
<path d="M464.00 67.20L467.20 72.70L460.80 72.70Z" fill="#2465d9"/>
<path d="M478.00 58.24L481.20 63.74L474.80 63.74Z" fill="#2465d9"/>
<path d="M492.00 51.32L495.20 56.82L488.80 56.82Z" fill="#2465d9"/>
<path d="M506.00 45.34L509.20 50.84L502.80 50.84Z" fill="#2465d9"/>
<path d="M520.00 41.49L523.20 46.99L516.80 46.99Z" fill="#2465d9"/>
<path d="M534.00 37.70L537.20 43.20L530.80 43.20Z" fill="#2465d9"/>
<path d="M548.00 34.09L551.20 39.59L544.80 39.59Z" fill="#2465d9"/>
<path d="M562.00 32.16L565.20 37.66L558.80 37.66Z" fill="#2465d9"/>
<path d="M576.00 29.47L579.20 34.97L572.80 34.97Z" fill="#2465d9"/>
<path d="M590.00 27.91L593.20 33.41L586.80 33.41Z" fill="#2465d9"/>
<path d="M604.00 26.47L607.20 31.97L600.80 31.97Z" fill="#2465d9"/>
<path d="M618.00 25.22L621.20 30.72L614.80 30.72Z" fill="#2465d9"/>
<path d="M632.00 24.28L635.20 29.78L628.80 29.78Z" fill="#2465d9"/>
<path d="M646.00 23.28L649.20 28.78L642.80 28.78Z" fill="#2465d9"/>
<path d="M408.00 202.30 L409.55 193.79 L411.04 185.78 L412.48 178.27 L413.86 171.23 L415.19 164.64 L416.47 158.49 L417.70 152.76 L418.89 147.43 L420.03 142.48 L421.13 137.90 L422.19 133.66 L423.21 129.75 L424.19 126.15 L425.14 122.85 L426.05 119.81 L426.93 117.04 L427.79 114.50 L428.61 112.18 L429.41 110.07 L430.19 108.14 L430.94 106.37 L431.67 104.75 L432.39 103.26 L433.08 101.89 L433.77 100.60 L434.44 99.39 L435.10 98.24 L435.74 97.14 L436.38 96.08 L437.02 95.07 L437.64 94.09 L438.25 93.16 L438.86 92.26 L439.46 91.40 L440.05 90.58 L440.63 89.79 L441.21 89.03 L441.78 88.30 L442.35 87.60 L442.91 86.93 L443.47 86.29 L444.02 85.67 L444.57 85.07 L445.11 84.50 L445.65 83.94 L446.19 83.41 L446.72 82.89 L447.25 82.38 L447.78 81.89 L448.31 81.42 L448.84 80.95 L449.37 80.49 L449.89 80.04 L450.42 79.60 L450.95 79.16 L451.47 78.73 L452.00 78.31 L452.53 77.89 L453.05 77.47 L453.58 77.06 L454.11 76.65 L454.63 76.25 L455.16 75.85 L455.68 75.46 L456.21 75.07 L456.74 74.69 L457.26 74.30 L457.79 73.93 L458.32 73.55 L458.84 73.18 L459.37 72.81 L459.89 72.44 L460.42 72.07 L460.95 71.71 L461.47 71.35 L462.00 70.99 L462.53 70.63 L463.05 70.27 L463.58 69.92 L464.11 69.56 L464.63 69.21 L465.16 68.85 L465.68 68.50 L466.21 68.15 L466.74 67.80 L467.26 67.45 L467.79 67.10 L468.32 66.75 L468.84 66.41 L469.37 66.06 L469.89 65.72 L470.42 65.38 L470.95 65.04 L471.47 64.71 L472.00 64.37 L472.53 64.04 L473.05 63.71 L473.58 63.38 L474.11 63.05 L474.63 62.73 L475.16 62.41 L475.68 62.09 L476.21 61.78 L476.74 61.46 L477.26 61.15 L477.79 60.85 L478.32 60.54 L478.84 60.24 L479.37 59.95 L479.89 59.65 L480.42 59.36 L480.95 59.07 L481.47 58.78 L482.00 58.50 L482.53 58.22 L483.05 57.94 L483.58 57.67 L484.11 57.39 L484.63 57.12 L485.16 56.86 L485.68 56.59 L486.21 56.33 L486.74 56.06 L487.26 55.81 L487.79 55.55 L488.32 55.29 L488.84 55.04 L489.37 54.79 L489.89 54.54 L490.42 54.29 L490.95 54.04 L491.47 53.80 L492.00 53.56 L492.53 53.31 L493.05 53.07 L493.58 52.83 L494.11 52.60 L494.63 52.36 L495.16 52.13 L495.68 51.90 L496.21 51.67 L496.74 51.44 L497.26 51.21 L497.79 50.99 L498.32 50.77 L498.84 50.55 L499.37 50.33 L499.89 50.12 L500.42 49.91 L500.95 49.70 L501.47 49.49 L502.00 49.28 L502.53 49.08 L503.05 48.88 L503.58 48.69 L504.11 48.49 L504.63 48.30 L505.16 48.11 L505.68 47.93 L506.21 47.75 L506.74 47.57 L507.26 47.39 L507.79 47.22 L508.32 47.05 L508.84 46.88 L509.37 46.71 L509.89 46.55 L510.42 46.39 L510.95 46.23 L511.47 46.07 L512.00 45.92 L512.53 45.77 L513.05 45.61 L513.58 45.46 L514.11 45.32 L514.63 45.17 L515.16 45.02 L515.68 44.88 L516.21 44.74 L516.74 44.59 L517.26 44.45 L517.79 44.31 L518.32 44.17 L518.84 44.03 L519.37 43.89 L519.89 43.75 L520.42 43.61 L520.95 43.47 L521.47 43.33 L522.00 43.19 L522.53 43.06 L523.05 42.92 L523.58 42.78 L524.11 42.64 L524.63 42.50 L525.16 42.36 L525.68 42.22 L526.21 42.09 L526.74 41.95 L527.26 41.81 L527.79 41.67 L528.32 41.53 L528.84 41.39 L529.37 41.26 L529.89 41.12 L530.42 40.98 L530.95 40.84 L531.47 40.70 L532.00 40.56 L532.53 40.42 L533.05 40.28 L533.58 40.15 L534.11 40.01 L534.63 39.87 L535.16 39.73 L535.68 39.59 L536.21 39.45 L536.74 39.31 L537.26 39.17 L537.79 39.04 L538.32 38.90 L538.84 38.76 L539.37 38.63 L539.89 38.50 L540.42 38.36 L540.95 38.23 L541.47 38.10 L542.00 37.97 L542.53 37.84 L543.05 37.72 L543.58 37.59 L544.11 37.47 L544.63 37.35 L545.16 37.23 L545.68 37.12 L546.21 37.00 L546.74 36.89 L547.26 36.78 L547.79 36.68 L548.32 36.57 L548.84 36.47 L549.37 36.38 L549.89 36.28 L550.42 36.19 L550.95 36.10 L551.47 36.01 L552.00 35.92 L552.53 35.83 L553.05 35.75 L553.58 35.66 L554.11 35.58 L554.63 35.50 L555.16 35.42 L555.68 35.34 L556.21 35.27 L556.74 35.19 L557.26 35.11 L557.79 35.03 L558.32 34.96 L558.84 34.88 L559.37 34.80 L559.89 34.72 L560.42 34.64 L560.95 34.57 L561.47 34.49 L562.00 34.40 L562.53 34.32 L563.05 34.24 L563.58 34.16 L564.11 34.07 L564.63 33.99 L565.16 33.90 L565.68 33.81 L566.21 33.73 L566.74 33.64 L567.26 33.55 L567.79 33.46 L568.32 33.37 L568.84 33.29 L569.37 33.20 L569.89 33.11 L570.42 33.02 L570.95 32.94 L571.47 32.85 L572.00 32.76 L572.53 32.68 L573.05 32.59 L573.58 32.51 L574.11 32.43 L574.63 32.35 L575.16 32.26 L575.68 32.19 L576.21 32.11 L576.74 32.03 L577.26 31.95 L577.79 31.88 L578.32 31.81 L578.84 31.74 L579.37 31.67 L579.89 31.60 L580.42 31.53 L580.95 31.46 L581.47 31.39 L582.00 31.33 L582.53 31.26 L583.05 31.20 L583.58 31.14 L584.11 31.07 L584.63 31.01 L585.16 30.95 L585.68 30.89 L586.21 30.83 L586.74 30.77 L587.26 30.71 L587.79 30.66 L588.32 30.60 L588.84 30.54 L589.37 30.49 L589.89 30.43 L590.42 30.37 L590.95 30.32 L591.47 30.26 L592.00 30.20 L592.53 30.15 L593.05 30.09 L593.58 30.04 L594.11 29.99 L594.63 29.93 L595.16 29.88 L595.68 29.82 L596.21 29.77 L596.74 29.72 L597.26 29.66 L597.79 29.61 L598.32 29.56 L598.84 29.51 L599.37 29.46 L599.89 29.41 L600.42 29.36 L600.95 29.31 L601.47 29.26 L602.00 29.21 L602.53 29.16 L603.05 29.11 L603.58 29.06 L604.11 29.01 L604.63 28.96 L605.16 28.91 L605.69 28.87 L606.22 28.82 L606.75 28.77 L607.28 28.73 L607.81 28.68 L608.35 28.64 L608.89 28.59 L609.43 28.54 L609.98 28.50 L610.53 28.45 L611.09 28.41 L611.65 28.36 L612.22 28.32 L612.79 28.27 L613.37 28.23 L613.95 28.18 L614.54 28.13 L615.14 28.09 L615.75 28.04 L616.36 28.00 L616.98 27.95 L617.62 27.90 L618.26 27.86 L618.90 27.81 L619.56 27.76 L620.23 27.72 L620.92 27.67 L621.61 27.62 L622.33 27.57 L623.06 27.52 L623.81 27.47 L624.59 27.42 L625.39 27.36 L626.21 27.31 L627.07 27.25 L627.95 27.20 L628.86 27.14 L629.81 27.08 L630.79 27.02 L631.81 26.95 L632.87 26.89 L633.97 26.82 L635.11 26.75 L636.30 26.68 L637.53 26.61 L638.81 26.53 L640.14 26.46 L641.52 26.38 L642.96 26.29 L644.45 26.21 L646.00 26.12" fill="none" stroke="#2ea865" stroke-width="1.25" stroke-linejoin="round"/>
<path d="M408.00 205.40L411.20 199.90L404.80 199.90Z" fill="#2ea865"/>
<path d="M422.00 127.60L425.20 122.10L418.80 122.10Z" fill="#2ea865"/>
<path d="M436.00 96.30L439.20 90.80L432.80 90.80Z" fill="#2ea865"/>
<path d="M450.00 82.34L453.20 76.84L446.80 76.84Z" fill="#2ea865"/>
<path d="M464.00 72.65L467.20 67.15L460.80 67.15Z" fill="#2ea865"/>
<path d="M478.00 63.46L481.20 57.96L474.80 57.96Z" fill="#2ea865"/>
<path d="M492.00 56.48L495.20 50.98L488.80 50.98Z" fill="#2ea865"/>
<path d="M506.00 50.56L509.20 45.06L502.80 45.06Z" fill="#2ea865"/>
<path d="M520.00 46.81L523.20 41.31L516.80 41.31Z" fill="#2ea865"/>
<path d="M534.00 43.15L537.20 37.65L530.80 37.65Z" fill="#2ea865"/>
<path d="M548.00 39.41L551.20 33.91L544.80 33.91Z" fill="#2ea865"/>
<path d="M562.00 37.64L565.20 32.14L558.80 32.14Z" fill="#2ea865"/>
<path d="M576.00 35.08L579.20 29.58L572.80 29.58Z" fill="#2ea865"/>
<path d="M590.00 33.49L593.20 27.99L586.80 27.99Z" fill="#2ea865"/>
<path d="M604.00 32.08L607.20 26.58L600.80 26.58Z" fill="#2ea865"/>
<path d="M618.00 30.93L621.20 25.43L614.80 25.43Z" fill="#2ea865"/>
<path d="M632.00 30.02L635.20 24.52L628.80 24.52Z" fill="#2ea865"/>
<path d="M646.00 29.22L649.20 23.72L642.80 23.72Z" fill="#2ea865"/>
<path d="M408.00 199.40 L409.55 191.11 L411.04 183.31 L412.48 176.00 L413.86 169.15 L415.19 162.74 L416.47 156.76 L417.70 151.19 L418.89 146.01 L420.03 141.21 L421.13 136.76 L422.19 132.65 L423.21 128.86 L424.19 125.37 L425.14 122.17 L426.05 119.23 L426.93 116.54 L427.79 114.09 L428.61 111.84 L429.41 109.80 L430.19 107.93 L430.94 106.21 L431.67 104.65 L432.39 103.20 L433.08 101.86 L433.77 100.61 L434.44 99.43 L435.10 98.30 L435.74 97.22 L436.38 96.17 L437.02 95.17 L437.64 94.20 L438.25 93.27 L438.86 92.37 L439.46 91.51 L440.05 90.68 L440.63 89.88 L441.21 89.11 L441.78 88.37 L442.35 87.65 L442.91 86.96 L443.47 86.30 L444.02 85.66 L444.57 85.04 L445.11 84.44 L445.65 83.87 L446.19 83.31 L446.72 82.76 L447.25 82.24 L447.78 81.73 L448.31 81.23 L448.84 80.74 L449.37 80.26 L449.89 79.79 L450.42 79.33 L450.95 78.88 L451.47 78.43 L452.00 78.00 L452.53 77.56 L453.05 77.14 L453.58 76.72 L454.11 76.30 L454.63 75.90 L455.16 75.49 L455.68 75.09 L456.21 74.70 L456.74 74.31 L457.26 73.93 L457.79 73.55 L458.32 73.17 L458.84 72.79 L459.37 72.42 L459.89 72.06 L460.42 71.69 L460.95 71.33 L461.47 70.97 L462.00 70.61 L462.53 70.25 L463.05 69.89 L463.58 69.53 L464.11 69.18 L464.63 68.82 L465.16 68.47 L465.68 68.12 L466.21 67.76 L466.74 67.41 L467.26 67.06 L467.79 66.71 L468.32 66.36 L468.84 66.01 L469.37 65.67 L469.89 65.32 L470.42 64.98 L470.95 64.64 L471.47 64.30 L472.00 63.96 L472.53 63.63 L473.05 63.29 L473.58 62.96 L474.11 62.63 L474.63 62.31 L475.16 61.98 L475.68 61.66 L476.21 61.34 L476.74 61.03 L477.26 60.72 L477.79 60.41 L478.32 60.10 L478.84 59.80 L479.37 59.50 L479.89 59.20 L480.42 58.91 L480.95 58.62 L481.47 58.33 L482.00 58.04 L482.53 57.76 L483.05 57.48 L483.58 57.21 L484.11 56.93 L484.63 56.66 L485.16 56.39 L485.68 56.12 L486.21 55.86 L486.74 55.60 L487.26 55.34 L487.79 55.08 L488.32 54.82 L488.84 54.57 L489.37 54.32 L489.89 54.07 L490.42 53.82 L490.95 53.57 L491.47 53.33 L492.00 53.08 L492.53 52.84 L493.05 52.60 L493.58 52.36 L494.11 52.13 L494.63 51.89 L495.16 51.66 L495.68 51.43 L496.21 51.20 L496.74 50.97 L497.26 50.75 L497.79 50.52 L498.32 50.30 L498.84 50.08 L499.37 49.87 L499.89 49.65 L500.42 49.44 L500.95 49.23 L501.47 49.03 L502.00 48.82 L502.53 48.62 L503.05 48.42 L503.58 48.23 L504.11 48.04 L504.63 47.85 L505.16 47.66 L505.68 47.48 L506.21 47.29 L506.74 47.12 L507.26 46.94 L507.79 46.77 L508.32 46.60 L508.84 46.43 L509.37 46.27 L509.89 46.11 L510.42 45.95 L510.95 45.79 L511.47 45.64 L512.00 45.48 L512.53 45.33 L513.05 45.18 L513.58 45.04 L514.11 44.89 L514.63 44.74 L515.16 44.60 L515.68 44.46 L516.21 44.32 L516.74 44.17 L517.26 44.03 L517.79 43.90 L518.32 43.76 L518.84 43.62 L519.37 43.48 L519.89 43.34 L520.42 43.21 L520.95 43.07 L521.47 42.93 L522.00 42.80 L522.53 42.66 L523.05 42.52 L523.58 42.39 L524.11 42.25 L524.63 42.11 L525.16 41.98 L525.68 41.84 L526.21 41.70 L526.74 41.57 L527.26 41.43 L527.79 41.29 L528.32 41.16 L528.84 41.02 L529.37 40.88 L529.89 40.74 L530.42 40.61 L530.95 40.47 L531.47 40.33 L532.00 40.19 L532.53 40.06 L533.05 39.92 L533.58 39.78 L534.11 39.64 L534.63 39.50 L535.16 39.36 L535.68 39.22 L536.21 39.08 L536.74 38.94 L537.26 38.80 L537.79 38.67 L538.32 38.53 L538.84 38.39 L539.37 38.25 L539.89 38.12 L540.42 37.99 L540.95 37.85 L541.47 37.72 L542.00 37.59 L542.53 37.46 L543.05 37.34 L543.58 37.21 L544.11 37.09 L544.63 36.97 L545.16 36.85 L545.68 36.73 L546.21 36.62 L546.74 36.51 L547.26 36.40 L547.79 36.29 L548.32 36.19 L548.84 36.09 L549.37 35.99 L549.89 35.90 L550.42 35.80 L550.95 35.71 L551.47 35.62 L552.00 35.54 L552.53 35.45 L553.05 35.37 L553.58 35.29 L554.11 35.21 L554.63 35.13 L555.16 35.05 L555.68 34.98 L556.21 34.90 L556.74 34.83 L557.26 34.75 L557.79 34.68 L558.32 34.60 L558.84 34.53 L559.37 34.45 L559.89 34.38 L560.42 34.30 L560.95 34.22 L561.47 34.15 L562.00 34.07 L562.53 33.99 L563.05 33.91 L563.58 33.83 L564.11 33.74 L564.63 33.66 L565.16 33.58 L565.68 33.49 L566.21 33.41 L566.74 33.32 L567.26 33.24 L567.79 33.15 L568.32 33.06 L568.84 32.98 L569.37 32.89 L569.89 32.81 L570.42 32.72 L570.95 32.64 L571.47 32.55 L572.00 32.47 L572.53 32.38 L573.05 32.30 L573.58 32.22 L574.11 32.13 L574.63 32.05 L575.16 31.97 L575.68 31.90 L576.21 31.82 L576.74 31.74 L577.26 31.67 L577.79 31.60 L578.32 31.52 L578.84 31.45 L579.37 31.38 L579.89 31.31 L580.42 31.24 L580.95 31.18 L581.47 31.11 L582.00 31.04 L582.53 30.98 L583.05 30.92 L583.58 30.85 L584.11 30.79 L584.63 30.73 L585.16 30.67 L585.68 30.61 L586.21 30.55 L586.74 30.49 L587.26 30.43 L587.79 30.37 L588.32 30.32 L588.84 30.26 L589.37 30.20 L589.89 30.14 L590.42 30.09 L590.95 30.03 L591.47 29.98 L592.00 29.92 L592.53 29.87 L593.05 29.81 L593.58 29.76 L594.11 29.70 L594.63 29.65 L595.16 29.60 L595.68 29.54 L596.21 29.49 L596.74 29.44 L597.26 29.38 L597.79 29.33 L598.32 29.28 L598.84 29.23 L599.37 29.18 L599.89 29.13 L600.42 29.08 L600.95 29.03 L601.47 28.98 L602.00 28.93 L602.53 28.88 L603.05 28.84 L603.58 28.79 L604.11 28.74 L604.63 28.69 L605.16 28.65 L605.69 28.60 L606.22 28.56 L606.75 28.51 L607.28 28.47 L607.81 28.42 L608.35 28.38 L608.89 28.33 L609.43 28.29 L609.98 28.24 L610.53 28.20 L611.09 28.16 L611.65 28.11 L612.22 28.07 L612.79 28.02 L613.37 27.98 L613.95 27.94 L614.54 27.89 L615.14 27.85 L615.75 27.80 L616.36 27.76 L616.98 27.71 L617.62 27.67 L618.26 27.62 L618.90 27.58 L619.56 27.53 L620.23 27.48 L620.92 27.44 L621.61 27.39 L622.33 27.34 L623.06 27.29 L623.81 27.24 L624.59 27.19 L625.39 27.14 L626.21 27.09 L627.07 27.04 L627.95 26.98 L628.86 26.93 L629.81 26.87 L630.79 26.81 L631.81 26.75 L632.87 26.69 L633.97 26.63 L635.11 26.57 L636.30 26.50 L637.53 26.44 L638.81 26.37 L640.14 26.30 L641.52 26.23 L642.96 26.15 L644.45 26.08 L646.00 26.00" fill="none" stroke="#a36be3" stroke-width="1.25" stroke-linejoin="round"/>
<path d="M408.00 195.90L411.10 199.40L408.00 202.90L404.90 199.40Z" fill="#a36be3"/>
<path d="M422.00 120.10L425.10 123.60L422.00 127.10L418.90 123.60Z" fill="#a36be3"/>
<path d="M436.00 90.30L439.10 93.80L436.00 97.30L432.90 93.80Z" fill="#a36be3"/>
<path d="M450.00 75.30L453.10 78.80L450.00 82.30L446.90 78.80Z" fill="#a36be3"/>
<path d="M464.00 65.70L467.10 69.20L464.00 72.70L460.90 69.20Z" fill="#a36be3"/>
<path d="M478.00 56.40L481.10 59.90L478.00 63.40L474.90 59.90Z" fill="#a36be3"/>
<path d="M492.00 49.40L495.10 52.90L492.00 56.40L488.90 52.90Z" fill="#a36be3"/>
<path d="M506.00 43.50L509.10 47.00L506.00 50.50L502.90 47.00Z" fill="#a36be3"/>
<path d="M520.00 39.80L523.10 43.30L520.00 46.80L516.90 43.30Z" fill="#a36be3"/>
<path d="M534.00 36.20L537.10 39.70L534.00 43.20L530.90 39.70Z" fill="#a36be3"/>
<path d="M548.00 32.40L551.10 35.90L548.00 39.40L544.90 35.90Z" fill="#a36be3"/>
<path d="M562.00 30.70L565.10 34.20L562.00 37.70L558.90 34.20Z" fill="#a36be3"/>
<path d="M576.00 28.20L579.10 31.70L576.00 35.20L572.90 31.70Z" fill="#a36be3"/>
<path d="M590.00 26.60L593.10 30.10L590.00 33.60L586.90 30.10Z" fill="#a36be3"/>
<path d="M604.00 25.20L607.10 28.70L604.00 32.20L600.90 28.70Z" fill="#a36be3"/>
<path d="M618.00 24.10L621.10 27.60L618.00 31.10L614.90 27.60Z" fill="#a36be3"/>
<path d="M632.00 23.20L635.10 26.70L632.00 30.20L628.90 26.70Z" fill="#a36be3"/>
<path d="M646.00 22.50L649.10 26.00L646.00 29.50L642.90 26.00Z" fill="#a36be3"/>
<path d="M394.4 2.8 V228.45 H674.4" fill="none" stroke="#333" stroke-width="1.3"/>
<path d="M392.40 3.50H394.4 M392.40 48.30H394.4 M392.40 93.30H394.4 M390.20 115.80H394.4 M392.40 138.30H394.4 M390.20 160.80H394.4 M392.40 183.30H394.4 M390.20 205.80H394.4 M392.40 228.45H394.4 M394.40 228.45V232.65 M422.40 228.45V230.75 M450.40 228.45V232.65 M478.40 228.45V230.75 M506.40 228.45V232.65 M534.40 228.45V230.75 M562.40 228.45V232.65 M590.40 228.45V230.75 M618.40 228.45V232.65 M646.40 228.45V230.75 M674.40 228.45V232.65" fill="none" stroke="#333" stroke-width="1.2"/>
<text x="386.3" y="209.90" text-anchor="end" font-family="'Liberation Sans', sans-serif" font-weight="bold" font-size="13">0.92</text>
<text x="386.3" y="164.90" text-anchor="end" font-family="'Liberation Sans', sans-serif" font-weight="bold" font-size="13">0.94</text>
<text x="386.3" y="119.90" text-anchor="end" font-family="'Liberation Sans', sans-serif" font-weight="bold" font-size="13">0.96</text>
<text x="386.3" y="74.90" text-anchor="end" font-family="'Liberation Sans', sans-serif" font-weight="bold" font-size="13">0.98</text>
<text x="386.3" y="29.90" text-anchor="end" font-family="'Liberation Sans', sans-serif" font-weight="bold" font-size="13">1.00</text>
<text x="394.00" y="245.6" text-anchor="middle" font-family="'Liberation Sans', sans-serif" font-weight="bold" font-size="13">0.0</text>
<text x="450.00" y="245.6" text-anchor="middle" font-family="'Liberation Sans', sans-serif" font-weight="bold" font-size="13">0.2</text>
<text x="506.00" y="245.6" text-anchor="middle" font-family="'Liberation Sans', sans-serif" font-weight="bold" font-size="13">0.4</text>
<text x="562.00" y="245.6" text-anchor="middle" font-family="'Liberation Sans', sans-serif" font-weight="bold" font-size="13">0.6</text>
<text x="618.00" y="245.6" text-anchor="middle" font-family="'Liberation Sans', sans-serif" font-weight="bold" font-size="13">0.8</text>
<text x="674.00" y="245.6" text-anchor="middle" font-family="'Liberation Sans', sans-serif" font-weight="bold" font-size="13">1.0</text>
<text x="535" y="265.9" text-anchor="middle" font-family="'Liberation Sans', sans-serif" font-weight="bold" font-size="15.5">Sampling rate</text>
<text transform="translate(352.1 116) rotate(-90)" text-anchor="middle" font-family="'Liberation Sans', sans-serif" font-weight="bold" font-size="15.3">SSIM</text>
<text x="537" y="290.2" text-anchor="middle" font-family="'Liberation Serif', serif" font-weight="bold" font-size="18">(b)</text>
<rect x="574.5" y="116.4" width="69.9" height="86.8" fill="#fff" stroke="#b0b0b0" stroke-width="1"/>
<line x1="576.0" y1="126.50" x2="607.6" y2="126.50" stroke="#525252" stroke-width="1.4"/>
<rect x="589.05" y="123.85" width="5.3" height="5.3" fill="#525252"/>
<text x="611.1" y="131.50" font-family="'Liberation Sans', sans-serif" font-size="13.8" fill="#111">5</text>
<line x1="576.0" y1="143.35" x2="607.6" y2="143.35" stroke="#ec3a3f" stroke-width="1.4"/>
<circle cx="591.70" cy="143.35" r="2.8" fill="#ec3a3f"/>
<text x="611.1" y="148.35" font-family="'Liberation Sans', sans-serif" font-size="13.8" fill="#111">10</text>
<line x1="576.0" y1="160.20" x2="607.6" y2="160.20" stroke="#2465d9" stroke-width="1.4"/>
<path d="M591.70 157.10L594.90 162.60L588.50 162.60Z" fill="#2465d9"/>
<text x="611.1" y="165.20" font-family="'Liberation Sans', sans-serif" font-size="13.8" fill="#111">15</text>
<line x1="576.0" y1="177.05" x2="607.6" y2="177.05" stroke="#2ea865" stroke-width="1.4"/>
<path d="M591.70 180.15L594.90 174.65L588.50 174.65Z" fill="#2ea865"/>
<text x="611.1" y="182.05" font-family="'Liberation Sans', sans-serif" font-size="13.8" fill="#111">20</text>
<line x1="576.0" y1="193.90" x2="607.6" y2="193.90" stroke="#a36be3" stroke-width="1.4"/>
<path d="M591.70 190.40L594.80 193.90L591.70 197.40L588.60 193.90Z" fill="#a36be3"/>
<text x="611.1" y="198.90" font-family="'Liberation Sans', sans-serif" font-size="13.8" fill="#111">2500</text>
</svg>
</body></html>
